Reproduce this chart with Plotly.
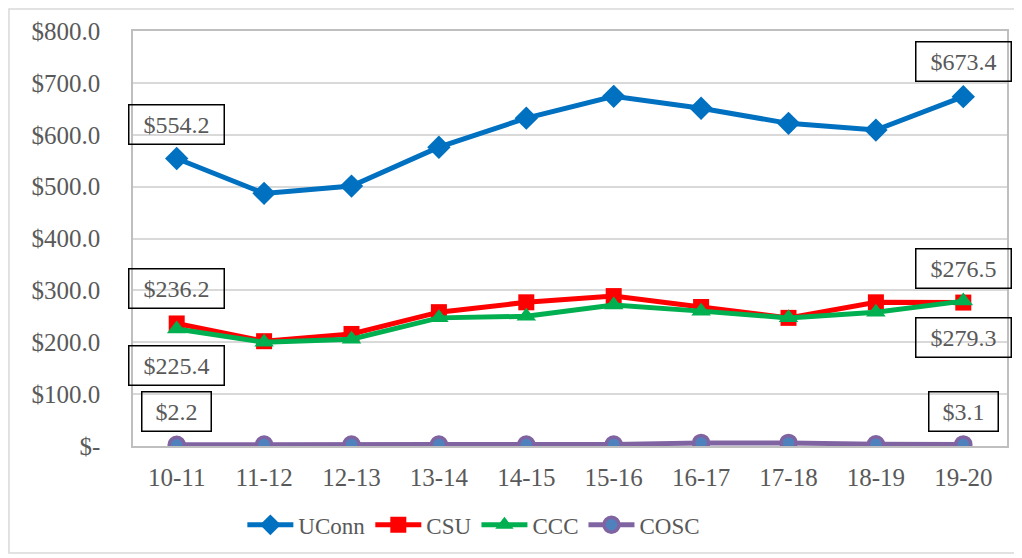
import plotly.graph_objects as go

years = ["10-11", "11-12", "12-13", "13-14", "14-15", "15-16", "16-17", "17-18", "18-19", "19-20"]
uconn = [554.2, 487, 501, 576, 632, 674, 651, 622, 609, 673.4]
csu = [236.2, 202, 216, 258, 277, 289, 268, 247, 277, 276.5]
ccc = [225.4, 200, 206, 247, 250, 272, 260, 247, 258, 279.3]
cosc = [2.2, 3.0, 3.0, 3.0, 3.0, 3.0, 6.0, 6.0, 3.5, 3.1]

y_ticks = [0, 100, 200, 300, 400, 500, 600, 700, 800]
y_ticktext = ["$-", "$100.0", "$200.0", "$300.0", "$400.0", "$500.0", "$600.0", "$700.0", "$800.0"]

FONT = "Liberation Serif, Times New Roman, serif"
GREY = "#595959"

fig = go.Figure()
fig.add_trace(go.Scatter(x=years, y=uconn, name="UConn", mode="lines+markers",
                         line=dict(color="#0070C0", width=5),
                         marker=dict(symbol="diamond", size=18, color="#0070C0")))
fig.add_trace(go.Scatter(x=years, y=csu, name="CSU", mode="lines+markers",
                         line=dict(color="#FF0000", width=5),
                         marker=dict(symbol="square", size=16, color="#FF0000")))
fig.add_trace(go.Scatter(x=years, y=ccc, name="CCC", mode="lines+markers",
                         line=dict(color="#00B050", width=5),
                         marker=dict(symbol="triangle-up", size=17, color="#00B050")))
fig.add_trace(go.Scatter(x=years, y=cosc, name="COSC", mode="lines+markers",
                         line=dict(color="#8064A2", width=5),
                         marker=dict(symbol="circle", size=15, color="#4F81BD",
                                     line=dict(color="#8064A2", width=3.5))))

labels = [
    (0, uconn[0], 34, 86), (9, uconn[9], 35, 86),
    (0, csu[0], 35, 86), (9, csu[9], 34, 86),
    (0, ccc[0], -36, 86), (9, ccc[9], -36, 86),
    (0, cosc[0], 33, 60), (9, cosc[9], 33, 60),
]
for (i, v, ys, w) in labels:
    fig.add_annotation(x=years[i], y=v, xref="x", yref="y", text="$%.1f" % v,
                       showarrow=False, yshift=ys, width=w, height=30, align="center",
                       bordercolor="#000000", borderwidth=1.5, borderpad=4,
                       bgcolor="rgba(255,255,255,0)",
                       font=dict(family=FONT, size=24, color=GREY))

fig.add_shape(type="rect", xref="paper", yref="paper",
              x0=-0.1419, x1=1.009, y0=-0.258, y1=1.053,
              line=dict(color="#D9D9D9", width=1.5))

fig.update_layout(
    width=1022, height=558,
    margin=dict(l=125, r=23, t=23, b=120, autoexpand=False),
    paper_bgcolor="white", plot_bgcolor="white",
    font=dict(family=FONT, size=24, color=GREY),
    showlegend=True,
    legend=dict(orientation="h", x=0.39, xanchor="center", y=-0.19, yanchor="middle",
                font=dict(family=FONT, size=23, color=GREY), itemwidth=46,
                tracegroupgap=0),
)
fig.update_xaxes(type="category", range=[-0.5, 9.5], showgrid=False, automargin=False,
                 showline=True, linecolor="#BFBFBF", linewidth=1.5, mirror=True,
                 ticks="outside", ticklen=8, tickcolor="rgba(0,0,0,0)",
                 tickfont=dict(family=FONT, size=25, color=GREY))
fig.update_yaxes(range=[0, 800], tickvals=y_ticks, ticktext=y_ticktext, automargin=False,
                 showgrid=True, gridcolor="#D9D9D9", gridwidth=1.5,
                 showline=True, linecolor="#BFBFBF", linewidth=1.5, mirror=True,
                 zeroline=False,
                 ticks="outside", ticklen=26, tickcolor="rgba(0,0,0,0)",
                 tickfont=dict(family=FONT, size=25, color=GREY))

fig.write_html("out.html")
